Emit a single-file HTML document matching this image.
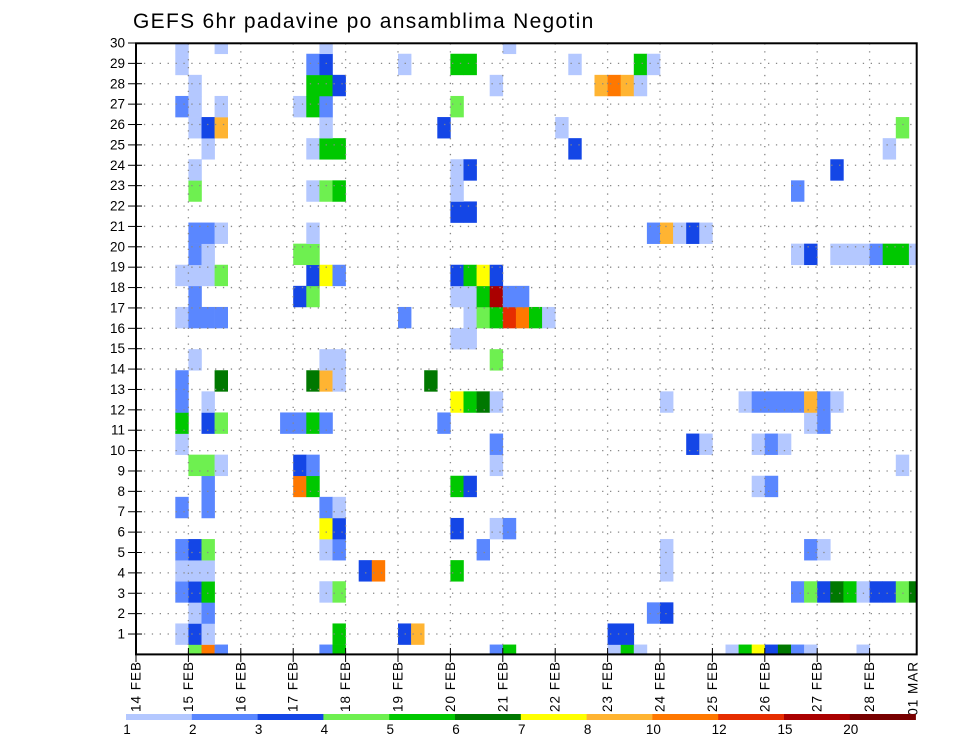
<!DOCTYPE html>
<html><head><meta charset="utf-8"><style>
html,body{margin:0;padding:0;background:#fff;}
svg text{font-family:"Liberation Sans",sans-serif;}
</style></head><body>
<svg id="chart" width="960" height="742" viewBox="0 0 960 742" xmlns="http://www.w3.org/2000/svg">
<defs><clipPath id="plotclip"><rect x="136" y="43.3" width="780.7" height="611.1"/></clipPath></defs>
<text x="133" y="28" font-size="21" letter-spacing="1.3" fill="#000">GEFS 6hr padavine po ansamblima Negotin</text>
<g id="cells" clip-path="url(#plotclip)"></g>
<g id="grid"></g>
<rect x="136" y="43.3" width="780.7" height="611.1" fill="none" stroke="#000" stroke-width="2"/>
<g id="yaxis"></g>
<g id="xaxis"></g>
<g id="legend"></g>
</svg>
<script>
// data: member rows, each entry "column:level" (column = 6h step from 14 FEB 00z, level = colour class)
const memberRows = [
"4:4 5:9 6:2 14:2 15:5 27:2 28:5 36:1 37:5 38:1 45:1 46:5 47:7 48:3 49:6 50:2 51:1 55:1",
"3:1 4:3 5:1 15:5 20:3 21:8 36:3 37:3",
"4:1 5:2 39:2 40:3",
"3:2 4:3 5:5 14:1 15:4 50:2 51:4 52:3 53:6 54:5 55:1 56:3 57:3 58:4 59:6",
"3:1 4:1 5:1 17:3 18:9 24:5 40:1",
"3:2 4:3 5:4 14:1 15:2 26:2 40:1 51:2 52:1",
"14:7 15:3 24:3 27:1 28:2",
"3:2 5:2 14:2 15:1",
"5:2 12:9 13:5 24:5 25:3 47:1 48:2",
"4:4 5:4 6:1 12:3 13:2 27:1 58:1",
"3:1 27:2 42:3 43:1 47:1 48:2 49:1",
"3:5 5:3 6:4 11:2 12:2 13:5 14:2 23:2 51:1 52:2",
"3:2 5:1 24:7 25:5 26:6 27:1 40:1 46:1 47:2 48:2 49:2 50:2 51:8 52:2 53:1",
"3:2 6:6 13:6 14:8 15:1 22:6",
"4:1 14:1 15:1 27:4",
"24:1 25:1",
"3:1 4:2 5:2 6:2 20:2 25:1 26:4 27:5 28:10 29:9 30:5 31:1",
"4:2 12:3 13:4 24:1 25:1 26:5 27:11 28:2 29:2",
"3:1 4:1 5:1 6:4 13:3 14:7 15:2 24:3 25:5 26:7 27:3",
"4:2 5:1 12:4 13:4 50:1 51:3 53:1 54:1 55:1 56:2 57:5 58:5 59:1",
"4:2 5:2 6:1 13:1 39:2 40:8 41:1 42:3 43:1",
"24:3 25:3",
"4:4 13:1 14:4 15:5 24:1 50:2",
"4:1 24:1 25:3 53:3",
"5:1 13:1 14:5 15:5 33:3 57:1",
"4:1 5:3 6:8 14:1 23:3 32:1 58:4",
"3:2 4:1 6:1 12:1 13:5 14:2 24:4",
"4:1 13:5 14:5 15:3 27:1 35:8 36:9 37:8 38:1",
"3:1 13:2 14:3 20:1 24:5 25:5 33:1 38:5 39:1",
"3:1 6:1 14:1 28:1"
];
const levelColors = ["#b4c8ff","#5a87ff","#1446e6","#6ef050","#00c800","#007800","#ffff00","#ffb432","#ff7800","#e62d00","#aa0000","#780000"];
const legendLabels = ["1","2","3","4","5","6","7","8","10","12","15","20"];
const dayLabels = ["14 FEB","15 FEB","16 FEB","17 FEB","18 FEB","19 FEB","20 FEB","21 FEB","22 FEB","23 FEB","24 FEB","25 FEB","26 FEB","27 FEB","28 FEB","01 MAR"];
const yTickLabels = [1,2,3,4,5,6,7,8,9,10,11,12,13,14,15,16,17,18,19,20,21,22,23,24,25,26,27,28,29,30];

const NS="http://www.w3.org/2000/svg";
const X0=136, DAY=52.4, CELLW=DAY/4;
const CELL_Y0=655.1, CELLH=21.1;
const Y_AX0=654.4, YSTEP=20.38;
const xCol = c => X0 + c*CELLW;
const yMember = m => CELL_Y0 - CELLH*m;
const yTick = r => Y_AX0 - YSTEP*r;
const xDay = d => X0 + d*DAY;
function mk(tag, attrs, parent){const e=document.createElementNS(NS,tag);for(const k in attrs)e.setAttribute(k,attrs[k]);parent.appendChild(e);return e;}

const gCells=document.getElementById('cells');
memberRows.forEach((row,m)=>{
  row.split(' ').forEach(tok=>{
    const [c,l]=tok.split(':').map(Number);
    const r=mk('rect',{x:xCol(c),y:yMember(m)-CELLH/2,width:CELLW+0.3,height:CELLH+0.3,fill:levelColors[l-1]},gCells);
    
    
  });
});

const gGrid=document.getElementById('grid');
yTickLabels.forEach(r=>{
  if(r>=30)return;
  const ln=mk('line',{x1:X0,x2:916.7,y1:yTick(r),y2:yTick(r),stroke:"#888","stroke-width":1.3,"stroke-dasharray":"1.3 6.6"},gGrid);
  
  
});
dayLabels.forEach((d,i)=>{
  if(i===0||xDay(i)>915)return;
  const ln=mk('line',{x1:xDay(i),x2:xDay(i),y1:43.3,y2:654.4,stroke:"#888","stroke-width":1.3,"stroke-dasharray":"1.3 6.6"},gGrid);
  
  
});

const gY=document.getElementById('yaxis');
yTickLabels.forEach(r=>{
  const t=mk('line',{x1:128,x2:142,y1:yTick(r),y2:yTick(r),stroke:"#000","stroke-width":1},gY);
  
  
  const tx=mk('text',{x:125,y:yTick(r)+4.5,"font-size":13.5,"text-anchor":"end",fill:"#000"},gY);
  tx.textContent=r;
  
  
});

const gX=document.getElementById('xaxis');
dayLabels.forEach((d,i)=>{
  const x=Math.min(xDay(i),913);
  if(xDay(i)<916){
    const t=mk('line',{x1:xDay(i),x2:xDay(i),y1:648,y2:662,stroke:"#000","stroke-width":1},gX);
    
    
  }
  const tx=mk('text',{x:0,y:0,"font-size":13.5,"letter-spacing":"1","text-anchor":"end",fill:"#000",transform:`translate(${x+4.5},661) rotate(-90)`},gX);
  tx.textContent=d;
  
  
});

const gL=document.getElementById('legend');
const LX0=126, LW=65.8;
levelColors.forEach((c,i)=>{
  const r=mk('rect',{x:LX0+i*LW,y:714,width:LW+0.3,height:6,fill:c},gL);
  
  
});
legendLabels.forEach((l,i)=>{
  const tx=mk('text',{x:LX0+i*LW+1,y:734,"font-size":13.5,"text-anchor":"middle",fill:"#000"},gL);
  tx.textContent=l;
  
  
});
</script>
</body></html>
